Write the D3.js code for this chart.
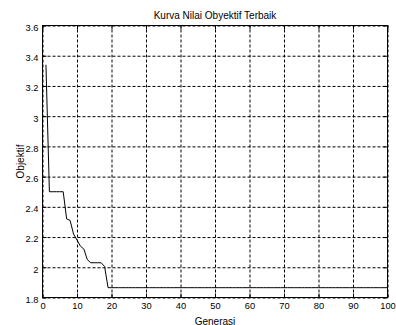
<!DOCTYPE html>
<html><head><meta charset="utf-8">
<script src="https://cdn.jsdelivr.net/npm/d3@7"></script>
<style>
body{margin:0;background:#fff}
svg{display:block}
text{font-family:Arial,"Liberation Sans",sans-serif;font-size:10px;fill:#000}
.tl text{font-size:9.3px}
</style>
</head><body>
<svg id="c" width="396" height="325"></svg>
<script>
// ---- data ----
const titleText = "Kurva Nilai Obyektif Terbaik";
const xLabelText = "Generasi";
const yLabelText = "Objektif";
const xTicks = [0, 10, 20, 30, 40, 50, 60, 70, 80, 90, 100];
const yTicks = [1.8, 2, 2.2, 2.4, 2.6, 2.8, 3, 3.2, 3.4, 3.6];
const yTickLabels = ["1.8", "2", "2.2", "2.4", "2.6", "2.8", "3", "3.2", "3.4", "3.6"];
// best objective value per generation (generation = index + 1)
const bestObjective = [
  3.34, 2.50, 2.50, 2.50, 2.50, 2.50, 2.32, 2.31, 2.22, 2.18,
  2.14, 2.12, 2.05, 2.03, 2.03, 2.03, 2.03, 2.005, 1.865, 1.865,
  1.865, 1.865, 1.865, 1.865, 1.865, 1.865, 1.865, 1.865, 1.865, 1.865,
  1.865, 1.865, 1.865, 1.865, 1.865, 1.865, 1.865, 1.865, 1.865, 1.865,
  1.865, 1.865, 1.865, 1.865, 1.865, 1.865, 1.865, 1.865, 1.865, 1.865,
  1.865, 1.865, 1.865, 1.865, 1.865, 1.865, 1.865, 1.865, 1.865, 1.865,
  1.865, 1.865, 1.865, 1.865, 1.865, 1.865, 1.865, 1.865, 1.865, 1.865,
  1.865, 1.865, 1.865, 1.865, 1.865, 1.865, 1.865, 1.865, 1.865, 1.865,
  1.865, 1.865, 1.865, 1.865, 1.865, 1.865, 1.865, 1.865, 1.865, 1.865,
  1.865, 1.865, 1.865, 1.865, 1.865, 1.865, 1.865, 1.865, 1.865, 1.865
];

// ---- layout ----
const L = 42.5, R = 387.5, T = 25.5, B = 297.5;
const svg = d3.select("#c");
const x = d3.scaleLinear().domain([0, 100]).range([L, R]);
const y = d3.scaleLinear().domain([1.8, 3.6]).range([B, T]);

// grid
const grid = svg.append("g");
grid.append("g").attr("transform", `translate(0,${B})`)
  .call(d3.axisBottom(x).tickValues(xTicks).tickSize(-(B - T)).tickFormat(""))
  .call(g => g.select(".domain").remove())
  .call(g => g.selectAll("line").attr("stroke", "#000").attr("stroke-dasharray", "3,2"));
grid.append("g").attr("transform", `translate(${L},0)`)
  .call(d3.axisLeft(y).tickValues(yTicks).tickSize(-(R - L)).tickFormat(""))
  .call(g => g.select(".domain").remove())
  .call(g => g.selectAll("line").attr("stroke", "#000").attr("stroke-dasharray", "3,2"));

// inward ticks on all sides
const tk = 4;
function clean(g){ g.select(".domain").remove(); g.selectAll("line").attr("stroke","#000"); }
svg.append("g").attr("transform", `translate(0,${B})`)
  .call(d3.axisBottom(x).tickValues(xTicks).tickSize(-tk).tickFormat("")).call(clean);
svg.append("g").attr("transform", `translate(0,${T})`)
  .call(d3.axisTop(x).tickValues(xTicks).tickSize(-tk).tickFormat("")).call(clean);
svg.append("g").attr("transform", `translate(${L},0)`)
  .call(d3.axisLeft(y).tickValues(yTicks).tickSize(-tk).tickFormat("")).call(clean);
svg.append("g").attr("transform", `translate(${R},0)`)
  .call(d3.axisRight(y).tickValues(yTicks).tickSize(-tk).tickFormat("")).call(clean);

// tick labels
svg.append("g").attr("class", "tl").attr("transform", `translate(0,${B})`)
  .call(d3.axisBottom(x).tickValues(xTicks).tickSize(0).tickPadding(5).tickFormat(d3.format("d")))
  .call(g => g.select(".domain").remove());
svg.append("g").attr("class", "tl").attr("transform", `translate(${L},0)`)
  .call(d3.axisLeft(y).tickValues(yTicks).tickSize(0).tickPadding(4).tickFormat((d, i) => yTickLabels[i]))
  .call(g => g.select(".domain").remove())
  .call(g => g.selectAll("text").attr("dy", "0.52em"));
svg.selectAll("g").attr("font-family", null).attr("font-size", null);
svg.selectAll(".tl text").attr("fill", "#000");

// box
svg.append("rect").attr("x", L).attr("y", T).attr("width", R - L).attr("height", B - T)
  .attr("fill", "none").attr("stroke", "#000");

// line
const line = d3.line().x((d, i) => x(i + 1)).y(d => y(d));
svg.append("path").datum(bestObjective).attr("d", line)
  .attr("fill", "none").attr("stroke", "#000").attr("stroke-width", 1);

// texts
svg.append("text").attr("x", (L + R) / 2).attr("y", 19).attr("text-anchor", "middle").text(titleText);
svg.append("text").attr("x", (L + R) / 2).attr("y", 324.5).attr("text-anchor", "middle").text(xLabelText);
svg.append("text").attr("transform", `translate(24,${(T + B) / 2}) rotate(-90)`).attr("text-anchor", "middle").text(yLabelText);
</script>
</body></html>
